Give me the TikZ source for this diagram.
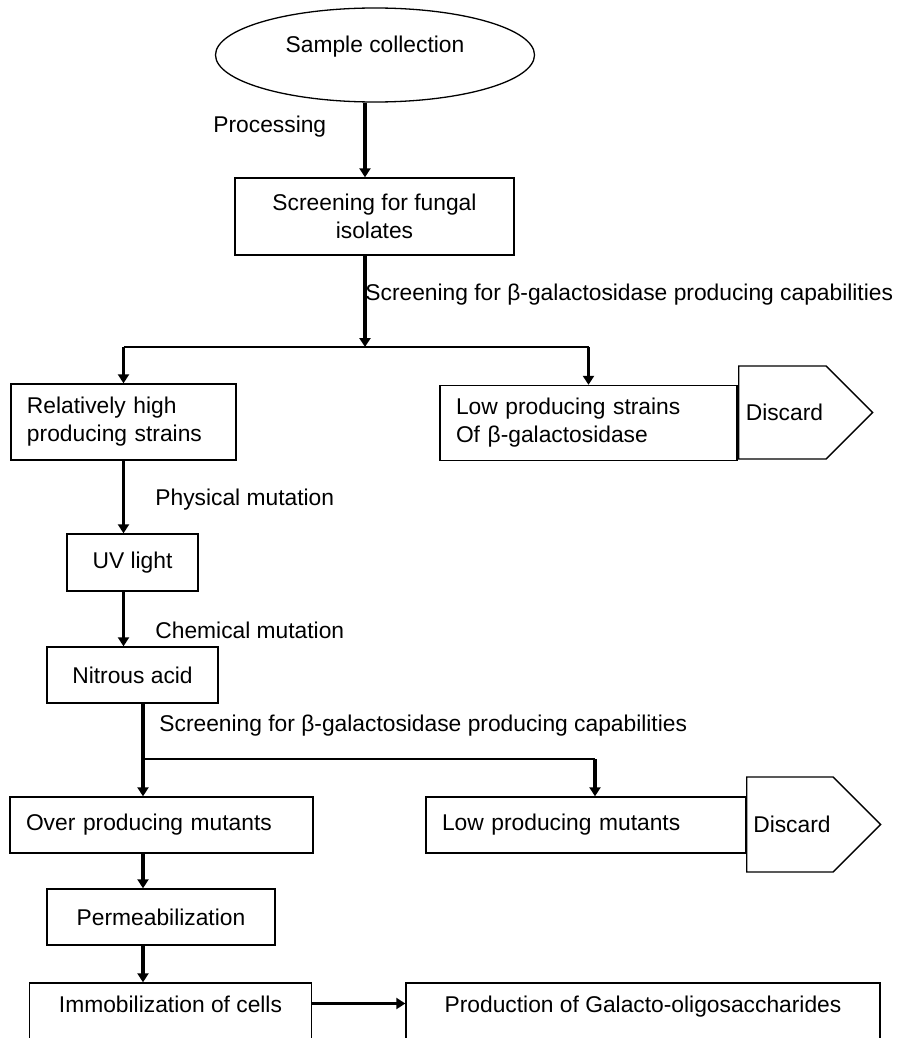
\documentclass[tikz,border=0pt]{standalone}
\usepackage{fontspec}
\setmainfont{Liberation Sans}
\usetikzlibrary{arrows.meta,shapes,positioning}

\begin{document}
\begin{tikzpicture}[x=1pt, y=-1pt, thick, >={Triangle[length=9pt,width=11pt]},
    font=\fontsize{22.8}{28}\selectfont,
    stage/.style={rectangle, draw=black, line width=1.4pt, align=center, inner sep=0pt},
    leftstage/.style={rectangle, draw=black, line width=1.4pt, align=left, inner xsep=16pt, inner ysep=0pt},
    discard/.style={signal, signal to=east, draw=black, line width=1.4pt, anchor=west, minimum width=134pt, inner sep=0pt},
    flow/.style={->, line width=3.5pt},
    tag/.style={anchor=west, inner sep=0pt}]
  \useasboundingbox (0,0) rectangle (897,1038);

  \node[ellipse, draw=black, line width=1.3pt, minimum width=319pt, minimum height=94pt, inner sep=0pt, text height=16pt, text depth=20pt] at (375,55) (sample) {Sample collection};
  \node[stage, minimum width=279pt, minimum height=77pt] at (374.5,216.5) (fungal) {Screening for fungal\\isolates};
  \node[leftstage, text width=193pt, minimum height=76pt] at (123.5,422) (relhigh) {Relatively high\\producing strains};
  \node[leftstage, text width=265pt, minimum height=75pt] at (588.5,423) (lowstrain) {Low producing strains\\Of β-galactosidase};
  \node[discard, minimum height=93pt] at (738,412.5) (discard1) {\hspace*{4pt}Discard};
  \node[stage, minimum width=131pt, minimum height=57pt] at (132.5,562.5) (uv) {UV light};
  \node[stage, minimum width=171pt, minimum height=56pt] at (132.5,675) (nitrous) {Nitrous acid};
  \node[leftstage, text width=271pt, minimum height=56pt] at (161.5,825) (overprod) {Over producing mutants};
  \node[leftstage, text width=288pt, minimum height=56pt] at (586,825) (lowmut) {Low producing mutants};
  \node[discard, minimum height=95pt] at (746,824.5) (discard2) {\hspace*{4pt}Discard};
  \node[stage, minimum width=228pt, minimum height=56pt] at (161,917) (perm) {Permeabilization};
  \node[stage, minimum width=282pt, minimum height=67pt, text height=16pt, text depth=25pt] at (170.5,1016.5) (immob) {Immobilization of cells};
  \node[stage, minimum width=474pt, minimum height=67pt, text height=16pt, text depth=25pt] at (643,1016.5) (prod) {Production of Galacto-oligosaccharides};

  % labels on the arrows
  \node[tag] at (213,127) (processing) {Processing};
  \node[tag] at (365,295) (screen1) {Screening for β-galactosidase producing capabilities};
  \node[tag] at (155,500) (physical) {Physical mutation};
  \node[tag] at (155,630) (chemical) {Chemical mutation};
  \node[tag] at (159,726) (screen2) {Screening for β-galactosidase producing capabilities};

  \coordinate (split1) at (365,347);
  \coordinate (split2) at (143,759);
  \coordinate (split2r) at (595,759);

  \draw[flow] (sample.south -| split1) -- (fungal.north -| split1);
  \draw[flow] (fungal.south -| split1) -- (split1);
  \draw[line width=1.4pt] (relhigh.north |- split1) -- (lowstrain.north |- split1);
  \draw[flow] (relhigh.north |- split1) -- (relhigh.north);
  \draw[flow] (lowstrain.north |- split1) -- (lowstrain.north);
  \draw[flow] (relhigh.south) -- (relhigh.south |- uv.north);
  \draw[flow] (uv.south -| relhigh) -- (nitrous.north -| relhigh);

  \draw[line width=3.5pt] (nitrous.south -| split2) -- (split2);
  \draw[line width=1.4pt] (split2) -- (split2r);
  \draw[flow] (split2) -- (overprod.north -| split2);
  \draw[flow] (split2r) -- (lowmut.north -| split2r);
  \draw[flow] (overprod.south -| split2) -- (perm.north -| split2);
  \draw[flow] (perm.south -| split2) -- (immob.north -| split2);
  \draw[flow] ([yshift=13pt]immob.east) -- ([yshift=13pt]prod.west);

\end{tikzpicture}
\end{document}
